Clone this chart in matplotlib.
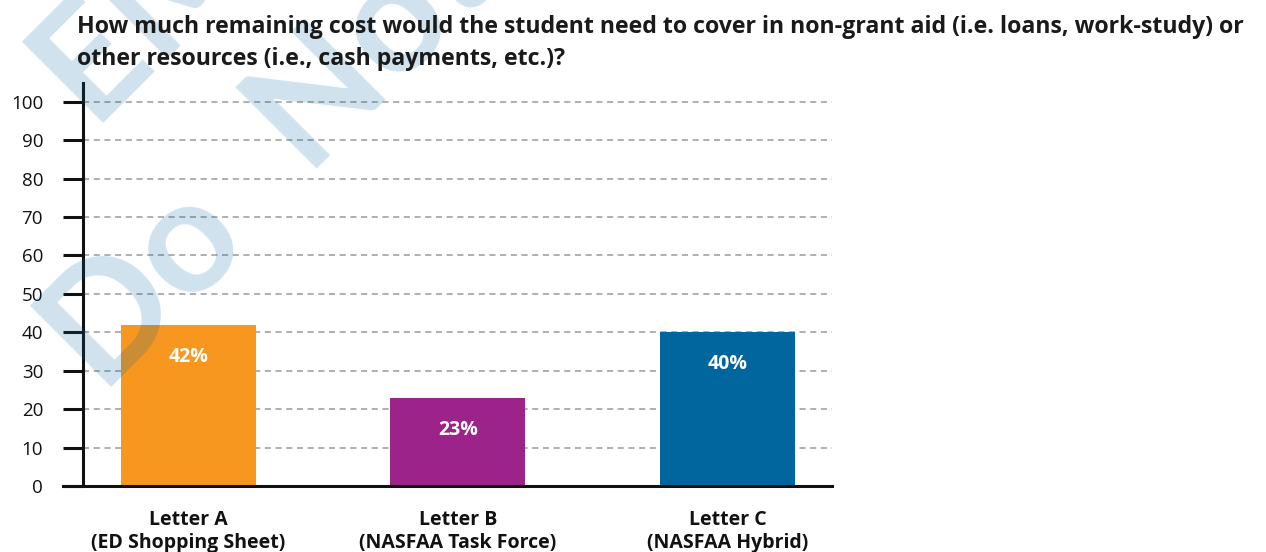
import matplotlib
matplotlib.use("Agg")
import matplotlib.pyplot as plt

# data
letters = ["Letter A\n(ED Shopping Sheet)",
           "Letter B\n(NASFAA Task Force)",
           "Letter C\n(NASFAA Hybrid)"]
remaining_pct = [42, 23, 40]
bar_colors = ["#F7971F", "#9B2389", "#02669E"]
yticks = [0, 10, 20, 30, 40, 50, 60, 70, 80, 90, 100]

title = ("How much remaining cost would the student need to cover in non-grant aid "
         "(i.e. loans, work-study) or\nother resources (i.e., cash payments, etc.)?")

plt.rcParams['font.family'] = ['Open Sans', 'DejaVu Sans']

fig = plt.figure(figsize=(12.66, 5.52), dpi=100)
ax = fig.add_axes([0.0652, 0.1196, 0.592, 0.7300])

x = list(range(len(letters)))
bars = ax.bar(x, remaining_pct, width=0.501, color=bar_colors, zorder=2)

for b, v in zip(bars, remaining_pct):
    ax.annotate(f"{v}%", (b.get_x() + b.get_width() / 2, v),
                xytext=(0, -23), textcoords="offset points",
                ha="center", va="center", color="white",
                fontsize=14, fontweight="bold", zorder=3)

ax.set_xlim(-0.393, 2.388)
ax.set_ylim(0, 104.9)
ax.set_yticks(yticks)
ax.set_yticklabels([str(t) for t in yticks], fontsize=13.5)
ax.set_xticks(x)
ax.set_xticklabels(letters, fontsize=14, fontweight="bold", color="#111111",
                   linespacing=1.25)

ax.tick_params(axis="y", length=14.4, width=2.2, direction="out", pad=14,
               colors="#111111")
ax.tick_params(axis="x", length=0, pad=17)

ax.yaxis.grid(True, color="#9a9a9a", linewidth=1.1, linestyle=(0, (4, 3)), zorder=1)
ax.set_axisbelow(True)

for s in ["top", "right"]:
    ax.spines[s].set_visible(False)
for s in ["left", "bottom"]:
    ax.spines[s].set_linewidth(2.2)
    ax.spines[s].set_color("#111111")
ax.spines["bottom"].set_bounds(-0.393 - 20 / 269.5, 2.388)

fig.text(0.0608, 0.973, title, ha="left", va="top", fontsize=16.7,
         fontweight="bold", color="#1a1a1a", linespacing=1.45, zorder=6)

# watermark, drawn over the bars
wm = dict(rotation=45, rotation_mode="anchor", ha="left", va="baseline",
          fontsize=115, fontweight="bold", color="#0066A0", alpha=0.19,
          zorder=5, family="Lato")
fig.text(0.0711, 0.7772, "EMBARGOED", **wm)
fig.text(0.0774, 0.2989, "Do", **wm)
fig.text(0.2433, 0.6793, "Not Distribute", **wm)

fig.savefig("out.png", dpi=100)
